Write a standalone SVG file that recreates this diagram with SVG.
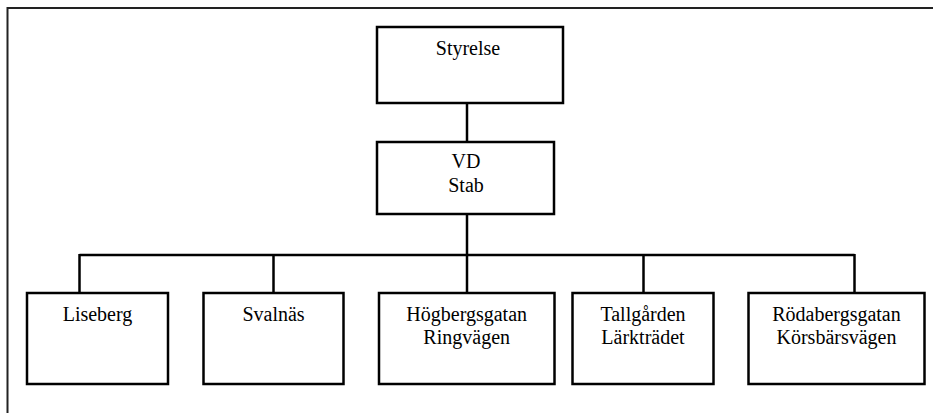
<svg xmlns="http://www.w3.org/2000/svg" width="933" height="413" viewBox="0 0 933 413">
  <style>
    .box { fill: #ffffff; stroke: #000000; stroke-width: 2.5; }
    .wire { fill: none; stroke: #000000; stroke-width: 2.5; }
    .frame { fill: none; stroke: #222222; stroke-width: 2; }
    .lbl { font-family: "Liberation Serif", "Times New Roman", serif; font-size: 20px; fill: #000000; text-anchor: middle; }
  </style>
  <rect width="933" height="413" fill="#ffffff"/>
  <!-- page frame: only top and left edges fall inside the view -->
  <path class="frame" d="M7.5,413 V8 H933"/>

  <g id="connectors">
    <line class="wire" x1="467" y1="103" x2="467" y2="142"/>
    <line class="wire" x1="467" y1="214" x2="467" y2="293"/>
    <line class="wire" x1="79.5" y1="255" x2="854.5" y2="255"/>
    <line class="wire" x1="79.5" y1="254" x2="79.5" y2="293"/>
    <line class="wire" x1="273.5" y1="255" x2="273.5" y2="293"/>
    <line class="wire" x1="643.5" y1="255" x2="643.5" y2="293"/>
    <line class="wire" x1="854.5" y1="254" x2="854.5" y2="293"/>
  </g>

  <g id="styrelse">
    <rect class="box" x="377" y="27" width="186" height="76"/>
    <text class="lbl" x="468" y="55">Styrelse</text>
  </g>

  <g id="vd">
    <rect class="box" x="377" y="142" width="177" height="72"/>
    <text class="lbl" x="466" y="168">VD</text>
    <text class="lbl" x="466" y="192">Stab</text>
  </g>

  <g id="liseberg">
    <rect class="box" x="27" y="293" width="141" height="91"/>
    <text class="lbl" x="97.5" y="321">Liseberg</text>
  </g>

  <g id="svalnas">
    <rect class="box" x="203.5" y="293" width="140" height="91"/>
    <text class="lbl" x="273.5" y="321">Svalnäs</text>
  </g>

  <g id="hogbergsgatan">
    <rect class="box" x="379" y="293" width="175.5" height="91"/>
    <text class="lbl" x="466.7" y="321">Högbergsgatan</text>
    <text class="lbl" x="466.7" y="344">Ringvägen</text>
  </g>

  <g id="tallgarden">
    <rect class="box" x="572.5" y="293" width="141" height="91"/>
    <text class="lbl" x="643" y="321">Tallgården</text>
    <text class="lbl" x="643" y="344">Lärkträdet</text>
  </g>

  <g id="rodabergsgatan">
    <rect class="box" x="748.5" y="293" width="176" height="91"/>
    <text class="lbl" x="836.5" y="321">Rödabergsgatan</text>
    <text class="lbl" x="836.5" y="344">Körsbärsvägen</text>
  </g>
</svg>
